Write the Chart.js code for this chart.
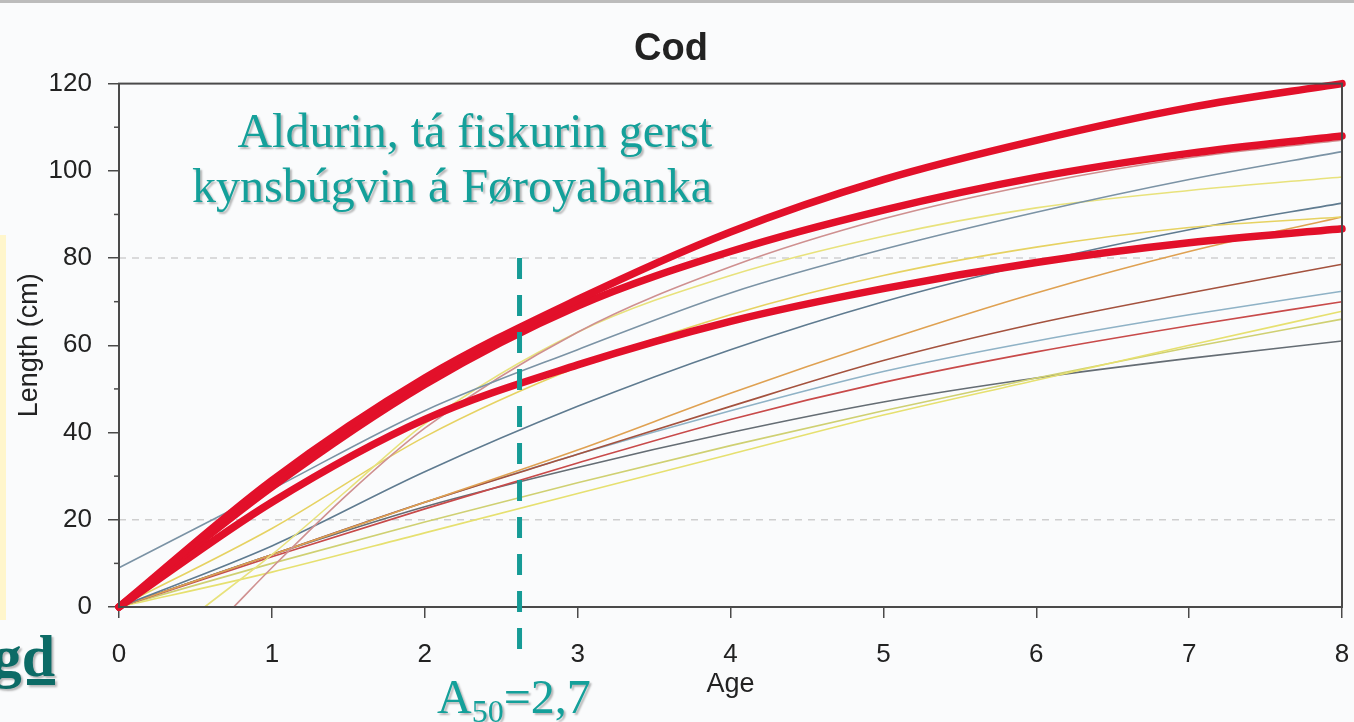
<!DOCTYPE html>
<html>
<head>
<meta charset="utf-8">
<script src="https://cdn.jsdelivr.net/npm/chart.js@4/dist/chart.umd.min.js"></script>
<style>
  html, body { margin:0; padding:0; background:#fafbfc; }
  #wrap { position:relative; width:1354px; height:722px; overflow:hidden; background:#fafbfc; }
  #topline { position:absolute; left:0; top:0; width:1354px; height:3px; background:#bcbcbc; }
  #strip { position:absolute; left:0; top:235px; width:6px; height:385px; background:#fff6cc; }
  canvas { position:absolute; left:0; top:0; }
  .note { position:absolute; font-family:"Liberation Serif","Times New Roman",serif; color:#14a09a;
          text-shadow:2px 2px 2px rgba(0,0,0,0.28); white-space:nowrap; }
  #note1 { right:642px; top:103px; font-size:48px; line-height:55px; text-align:right; }
  #a50 { left:437px; top:669px; font-size:48px; line-height:55px; }
  #a50 sub { font-size:32px; vertical-align:-9px; line-height:0; }
  #gd { right:1299px; top:626px; font-size:60px; line-height:60px; font-weight:bold; color:#0c6b66; text-decoration:underline; }
</style>
</head>
<body>
<div id="wrap">
  <div id="topline"></div>
  <div id="strip"></div>
  <canvas id="mainChart" width="1354" height="722"></canvas>
  <div class="note" id="note1">Aldurin, tá fiskurin gerst<br>kynsbúgvin á Føroyabanka</div>
  <div class="note" id="a50">A<sub>50</sub>=2,7</div>
  <div class="note" id="gd">gd</div>
</div>
<script>
// growth curves (age in years, length in cm)
const ages = [0, 1, 2, 3, 4, 5, 6, 7, 8];
const agesPink = [0.75, 1, 1.5, 2, 3, 4, 5, 6, 7, 8];
const agesEarlyYellow = [0.56, 1, 1.5, 2, 3, 4, 5, 6, 7, 8];

const redTop = [0, 29, 52.5, 70.5, 86, 98, 107, 114.5, 120];
const redMid = [0, 27.5, 51, 69, 81.5, 91, 98.5, 104, 108];
const redLow = [0, 24, 43, 55.5, 65.5, 73, 79, 83.5, 86.7];

const greyBlue = [9, 27, 45, 59, 72, 82, 90.5, 98, 104.4];
const pink = [0, 9, 26, 41, 63, 78, 89, 97, 103, 107];
const earlyYellow = [0, 12, 27, 42, 63, 76, 85, 91.5, 95.5, 98.6];
const upperYellow = [0, 18, 39, 55, 67, 76, 82.5, 87, 89.4];
const steelBlue = [0, 14, 31, 46, 59, 70, 79, 86.5, 92.6];
const orange = [0, 12, 24, 36, 49, 61, 72, 81.5, 89.4];
const brown = [0, 12, 24, 35, 46, 56.5, 65, 72, 78.6];
const lightBlue = [0, 12, 24, 35, 45, 54, 61, 67, 72.4];
const thinRed = [0, 11.5, 22.5, 33, 43, 51.5, 58.5, 64.5, 70];
const lowYellow = [0, 8, 17, 26, 35, 44, 52, 60, 67.8];
const yellowGreen = [0, 10, 19.5, 28.5, 37, 45, 52.5, 59.5, 66];
const darkGrey = [0, 12, 23, 32, 40, 47, 52.5, 57, 61];

const yTicks = [0, 20, 40, 60, 80, 100, 120];
const yMinorTicks = [10, 30, 50, 70, 90, 110];
const guideLevels = [20, 80];
const a50Age = 2.62;   // where the dashed marker sits in the figure
const a50Top = 80;

const pts = (xs, ys) => xs.map((x, i) => ({x: x, y: ys[i]}));

const thick = (data, order) => ({data, borderColor:'#e2102a', borderWidth:7.5, pointRadius:0,
    borderCapStyle:'round', borderJoinStyle:'round', cubicInterpolationMode:'monotone', clip:8, order});
const thin = (data, color) => ({data, borderColor:color, borderWidth:1.6, pointRadius:0,
    cubicInterpolationMode:'monotone', clip:4, order:10});

const overlay = {
    id: 'overlay',
    beforeDatasetsDraw(chart) {
        const {ctx, chartArea:a, scales:{y}} = chart;
        ctx.save();
        ctx.strokeStyle = '#cfcfcf'; ctx.lineWidth = 1.5; ctx.setLineDash([7, 6]);
        guideLevels.forEach(v => {
            const py = y.getPixelForValue(v);
            ctx.beginPath(); ctx.moveTo(a.left, py); ctx.lineTo(a.right, py); ctx.stroke();
        });
        ctx.restore();
    },
    afterDatasetsDraw(chart) {
        const {ctx, chartArea:a, scales:{x, y}} = chart;
        ctx.save();
        ctx.strokeStyle = '#4a4a4a'; ctx.lineWidth = 2;
        ctx.strokeRect(a.left, a.top, a.right - a.left, a.bottom - a.top);
        ctx.lineWidth = 1.5;
        yMinorTicks.forEach(v => {
            const py = y.getPixelForValue(v);
            ctx.beginPath(); ctx.moveTo(a.left - 5, py); ctx.lineTo(a.left, py); ctx.stroke();
        });
        // A50 marker
        const px = x.getPixelForValue(a50Age);
        ctx.strokeStyle = '#169b96'; ctx.lineWidth = 5; ctx.setLineDash([21, 16]);
        ctx.beginPath(); ctx.moveTo(px, y.getPixelForValue(a50Top)); ctx.lineTo(px, a.bottom + 50); ctx.stroke();
        ctx.restore();
    }
};

window.mainChart = new Chart(document.getElementById('mainChart'), {
    type: 'line',
    data: {
        datasets: [
            thick(pts(ages, redTop), 0),
            thick(pts(ages, redMid), 1),
            thick(pts(ages, redLow), 2),
            thin(pts(ages, greyBlue), '#7b93a5'),
            thin(pts(agesPink, pink), '#cf9090'),
            thin(pts(agesEarlyYellow, earlyYellow), '#e8e27c'),
            thin(pts(ages, upperYellow), '#e6d262'),
            thin(pts(ages, steelBlue), '#5f7b90'),
            thin(pts(ages, orange), '#dfa152'),
            thin(pts(ages, brown), '#a4523e'),
            thin(pts(ages, lightBlue), '#8fb2c6'),
            thin(pts(ages, thinRed), '#c84a4a'),
            thin(pts(ages, lowYellow), '#e6e070'),
            thin(pts(ages, yellowGreen), '#cfd072'),
            thin(pts(ages, darkGrey), '#656d74')
        ]
    },
    options: {
        responsive: false,
        animation: false,
        devicePixelRatio: 1,
        layout: { padding: { left:0, right:12, top:0, bottom:0 } },
        scales: {
            x: {
                type:'linear', min:0, max:8,
                afterFit: s => { s.height = 115; s.paddingLeft = 0; s.paddingRight = 0; },
                ticks: { stepSize:1, padding:21, color:'#222', font:{size:26, family:"'Liberation Sans', Arial, sans-serif"} },
                grid: { drawOnChartArea:false, drawTicks:true, tickLength:11, color:'#4a4a4a', lineWidth:1.5 },
                border: { color:'#4a4a4a', width:2 },
                title: { display:true, text:'Age', color:'#222', padding:{top:0, bottom:21},
                         font:{size:27, family:"'Liberation Sans', Arial, sans-serif"} }
            },
            y: {
                min:0, max:120,
                afterFit: s => { s.width = 119; s.paddingTop = 0; s.paddingBottom = 0; },
                afterBuildTicks: s => { s.ticks = yTicks.map(v => ({value:v})); },
                ticks: { padding:16, color:'#222', font:{size:26, family:"'Liberation Sans', Arial, sans-serif"} },
                grid: { drawOnChartArea:false, drawTicks:true, tickLength:11, color:'#4a4a4a', lineWidth:1.5 },
                border: { color:'#4a4a4a', width:2 },
                title: { display:true, text:'Length (cm)', color:'#222', padding:{top:13, bottom:0},
                         font:{size:27, family:"'Liberation Sans', Arial, sans-serif"} }
            }
        },
        plugins: {
            legend: { display:false },
            tooltip: { enabled:false },
            title: { display:true, text:'Cod', color:'#222', padding:{top:27, bottom:11},
                     font:{size:38, weight:'bold', family:"'Liberation Sans', Arial, sans-serif"} }
        }
    },
    plugins: [overlay]
});
</script>
</body>
</html>
